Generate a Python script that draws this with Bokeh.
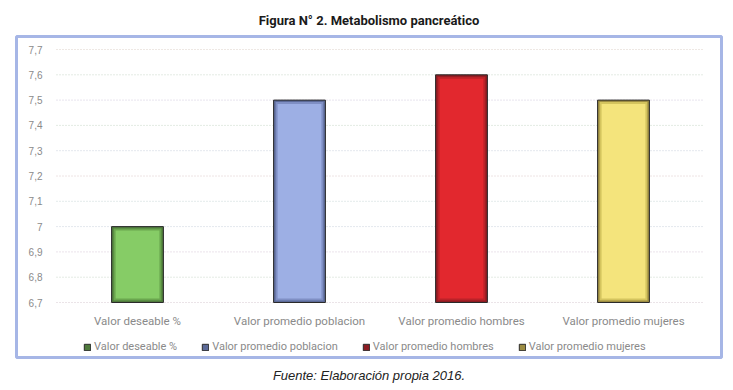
from bokeh.plotting import figure
from bokeh.models import (ColumnDataSource, Range1d, FixedTicker, CustomJSTickFormatter,
                          Legend, LegendItem, Title)
from bokeh.embed import file_html
from bokeh.resources import INLINE

categories = ["Valor deseable %", "Valor promedio poblacion", "Valor promedio hombres", "Valor promedio mujeres"]
values = [7.0, 7.5, 7.6, 7.5]
y_ticks = [6.7, 6.8, 6.9, 7.0, 7.1, 7.2, 7.3, 7.4, 7.5, 7.6, 7.7]
light_colors = ["#86cc66", "#9dafe4", "#e2282e", "#f4e47c"]
edge_colors = ["#4f7a3c", "#5c6a98", "#8c1c22", "#9c8c42"]
mid_colors = ["#6aa64e", "#7f8fc4", "#bb2228", "#d4c45e"]
grid_colors = ["#d6c8d0", "#c8d6c8", "#d6c8d6", "#c8d0dc", "#c8d6d6", "#dcc8c8",
               "#c8d0dc", "#c8d6c8", "#d0c8dc", "#c8d6c8", "#dcd0c8"]
base = 6.7

title_text = "Figura N° 2. Metabolismo pancreático"
footer_text = "Fuente: Elaboración propia 2016."

W, H = 733, 390
FL, FR, FT, FB = 16, 721, 36, 357          # frame (the blue box) in pixels
px_per_unit_y = 253.0
px_per_cat = 162.0
y0_px, x0_px = 302, 56                      # pixel positions of 6.7 and of category axis start

y_range = Range1d(base - (FB - y0_px) / px_per_unit_y, y_ticks[-1] + (y0_px - 253 - FT) / px_per_unit_y)
x_range = Range1d(-(x0_px - FL) / px_per_cat, len(categories) + (FR - x0_px - len(categories) * px_per_cat) / px_per_cat)

p = figure(width=W, height=H, x_range=x_range, y_range=y_range,
           output_backend="svg", toolbar_location=None,
           min_border_left=FL, min_border_right=W - FR, min_border_top=FT, min_border_bottom=H - FB)
p.outline_line_color = "#a6b6e6"
p.outline_line_width = 3
p.background_fill_color = "white"
p.border_fill_color = "white"
p.xgrid.grid_line_color = None
p.ygrid.grid_line_color = None

xs = [i + 0.5 for i in range(len(categories))]

# dotted grid lines across the category span
p.segment(x0=[0] * len(y_ticks), x1=[len(categories)] * len(y_ticks), y0=y_ticks, y1=y_ticks,
          line_color=grid_colors, line_dash="1 2", line_width=1)

bw = 0.32
dx = 4 / px_per_cat
dy = 4 / px_per_unit_y
src = ColumnDataSource(dict(x=xs, top=values, bottom=[base] * 4,
                            top_mid=[v - dy * 0.5 for v in values], bottom_mid=[base + dy * 0.5] * 4,
                            top_in=[v - dy for v in values], bottom_in=[base + dy] * 4,
                            edge=edge_colors, mid=mid_colors, light=light_colors))

outer = p.vbar(x="x", top="top", bottom="bottom", width=bw, source=src,
               fill_color="edge", line_color="#2a2a2a", line_width=1)
p.vbar(x="x", top="top_mid", bottom="bottom_mid", width=bw - dx, source=src,
       fill_color="mid", line_color=None)
p.vbar(x="x", top="top_in", bottom="bottom_in", width=bw - 2 * dx, source=src,
       fill_color="light", line_color=None)

# axes
p.yaxis.ticker = FixedTicker(ticks=y_ticks)
p.yaxis.formatter = CustomJSTickFormatter(code="""
var s = tick.toFixed(1);
if (s.endsWith('.0')) { s = s.slice(0, -2); }
return s.replace('.', ',');
""")
p.xaxis.ticker = FixedTicker(ticks=xs)
p.xaxis.major_label_overrides = {x: c for x, c in zip(xs, categories)}
for ax in (p.xaxis[0], p.yaxis[0]):
    ax.axis_line_color = None
    ax.major_tick_line_color = None
    ax.minor_tick_line_color = None
    ax.major_tick_in = 0
    ax.major_tick_out = 0
    ax.major_label_text_color = "#8a8a8a"
p.yaxis.major_label_text_font = "Liberation Sans"
p.yaxis.major_label_text_font_size = "10px"
p.yaxis.major_label_standoff = -(42 - FL)
p.xaxis.major_label_text_font = "Roboto"
p.xaxis.major_label_text_font_size = "11.5px"
p.xaxis.major_label_standoff = -(FB - 313)

# legend inside the box
items = [LegendItem(label=c, renderers=[outer], index=i) for i, c in enumerate(categories)]
legend = Legend(items=items, orientation="horizontal", location=(83 - FL, FB - 353),
                glyph_width=8, glyph_height=8, label_standoff=3, spacing=24,
                label_height=12, padding=0, margin=0, border_line_color=None,
                background_fill_alpha=0, label_text_font="Roboto",
                label_text_font_size="11px", label_text_color="#8a8a8a")
p.add_layout(legend, "center")

p.title = Title(text=title_text, align="center", text_font="Roboto", text_font_style="bold",
                text_font_size="13px", text_color="#1a1a1a", standoff=18)
p.add_layout(Title(text=footer_text, align="center", text_font="Liberation Sans",
                   text_font_style="italic", text_font_size="13px", text_color="#222222",
                   standoff=16), "below")

open("out.html", "w").write(file_html(p, INLINE))
